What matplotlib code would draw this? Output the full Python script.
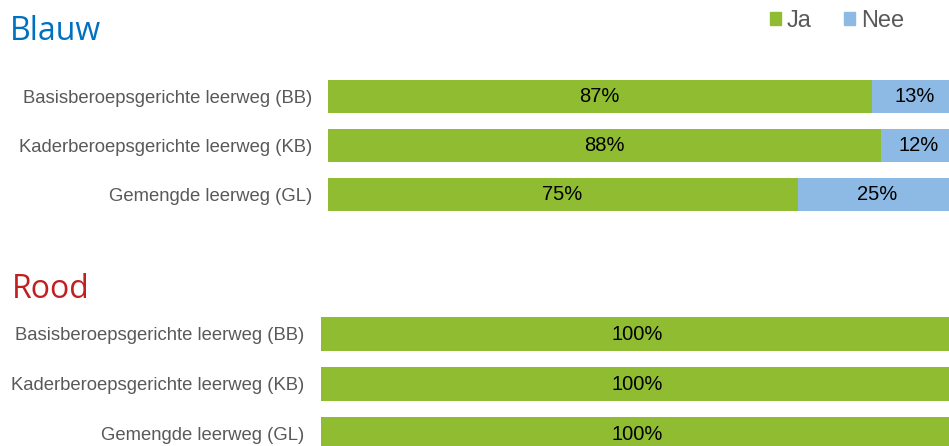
import matplotlib
matplotlib.use("Agg")
import matplotlib.pyplot as plt
from matplotlib.patches import Rectangle

categories = ["Basisberoepsgerichte leerweg (BB)",
              "Kaderberoepsgerichte leerweg (KB)",
              "Gemengde leerweg (GL)"]
blauw_ja = [86.51, 87.9, 74.7]
blauw_nee = [13.49, 12.1, 25.3]
rood_ja = [100, 100, 100]
rood_nee = [0, 0, 0]
series_names = ["Ja", "Nee"]

GREEN = "#8FBC31"
BLUE = "#8DBAE4"
LABEL = "#595959"

W, H = 949, 446
fig = plt.figure(figsize=(W / 100, H / 100), dpi=100)
fig.patch.set_facecolor("white")

def px_axes(left, top, right, bottom):
    return fig.add_axes([left / W, 1 - bottom / H, (right - left) / W, (bottom - top) / H])

def draw(ax, ja, nee, bar_h, pad):
    y = list(range(len(categories)))
    ax.barh(y, ja, height=bar_h, color=GREEN, edgecolor="none")
    ax.barh(y, nee, left=ja, height=bar_h, color=BLUE, edgecolor="none")
    for i in y:
        if ja[i] > 0:
            ax.text(ja[i] / 2, i, f"{ja[i]:.0f}%", ha="center", va="center",
                    fontsize=14.5, family="Liberation Sans", color="black")
        if nee[i] > 0:
            ax.text(ja[i] + nee[i] / 2, i, f"{nee[i]:.0f}%", ha="center", va="center",
                    fontsize=14.5, family="Liberation Sans", color="black")
    ax.set_xlim(0, 100)
    ax.set_ylim(len(categories) - 0.5, -0.5)
    ax.set_yticks(y)
    ax.set_yticklabels(categories, fontsize=13.3, family="Liberation Sans", color=LABEL)
    ax.tick_params(axis="y", length=0, pad=pad)
    ax.set_xticks([])
    for s in ax.spines.values():
        s.set_visible(False)

ax1 = px_axes(327.5, 72, 957, 219)
draw(ax1, blauw_ja, blauw_nee, 32.5 / 49, 11.2)
ax2 = px_axes(321, 309, 953, 459)
draw(ax2, rood_ja, rood_nee, 33.5 / 50, 12.2)

fig.text(10 / W, 1 - 31 / H, "Blauw", fontsize=23, family="Open Sans",
         color="#0070C0", ha="left", va="center")
fig.text(12 / W, 1 - 290 / H, "Rood", fontsize=23, family="Open Sans",
         color="#C0201F", ha="left", va="center")

# legend
handles = [Rectangle((0, 0), 1, 1, color=GREEN), Rectangle((0, 0), 1, 1, color=BLUE)]
leg = fig.legend(handles, series_names, loc="center", bbox_to_anchor=(837 / W, 1 - 21 / H),
                 ncol=2, frameon=False, prop={"family": "Liberation Sans", "size": 17},
                 handlelength=0.45, handleheight=0.45, handletextpad=0.25,
                 columnspacing=1.4, borderpad=0, borderaxespad=0)
for t in leg.get_texts():
    t.set_color(LABEL)

fig.savefig("out.png", dpi=100)
